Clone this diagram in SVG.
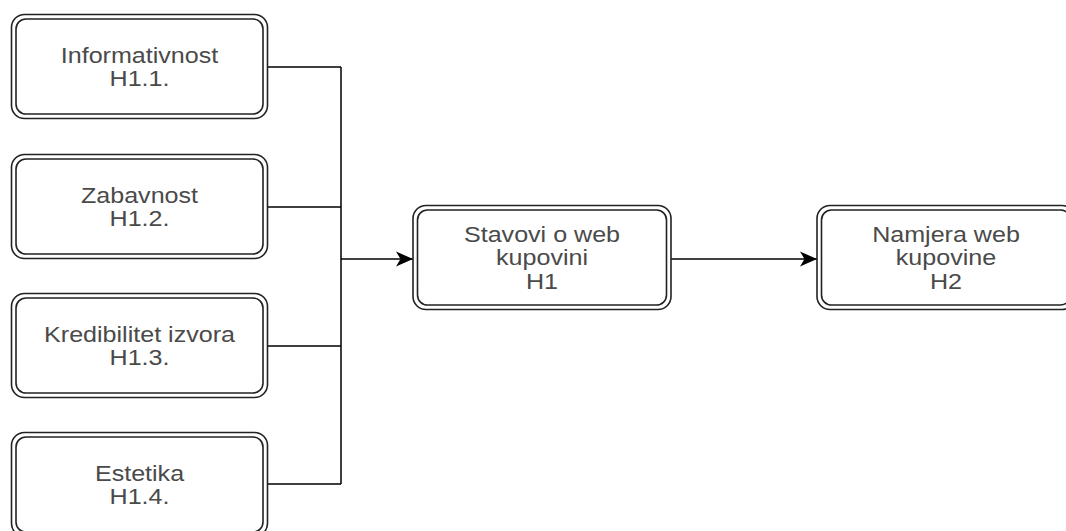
<svg xmlns="http://www.w3.org/2000/svg" width="1066" height="531" viewBox="0 0 1066 531">
<defs>
<marker id="arrow" markerUnits="userSpaceOnUse" markerWidth="17" markerHeight="17" viewBox="0 0 17 17" refX="17" refY="8.5" orient="auto">
<path d="M0,1 L17,8.5 L0,16 L4.5,8.5 Z" fill="#000"/>
</marker>
</defs>
<style>
.o{fill:#fff;stroke:#222;stroke-width:1.6}
.i{fill:none;stroke:#222;stroke-width:1.6}
.t{font-family:"Liberation Sans",Arial,sans-serif;font-size:22px;fill:#4a4a4a;text-anchor:middle}
.c{fill:none;stroke:#000;stroke-width:1.5}
</style>
<rect width="1066" height="531" fill="#fff"/>
<g id="connectors">
<path class="c" d="M268,67 H341 M268,207 H341 M268,346 H341 M268,484 H341 M341,67 V484"/>
<path class="c" d="M341,259 H413" marker-end="url(#arrow)"/>
<path class="c" d="M671,259 H817" marker-end="url(#arrow)"/>
</g>
<g id="node-informativnost">
<rect class="o" x="11.5" y="14.5" width="256" height="104" rx="13"/>
<rect class="i" x="16" y="19" width="247" height="95" rx="10"/>
<g transform="matrix(1.14 0 0 1 139.5 0)"><text class="t" x="0" y="63.5">Informativnost</text><text class="t" x="0" y="86.5">H1.1.</text></g>
</g>
<g id="node-zabavnost">
<rect class="o" x="11.5" y="154.5" width="256" height="104" rx="13"/>
<rect class="i" x="16" y="159" width="247" height="95" rx="10"/>
<g transform="matrix(1.14 0 0 1 139.5 0)"><text class="t" x="0" y="203.5">Zabavnost</text><text class="t" x="0" y="226.5">H1.2.</text></g>
</g>
<g id="node-kredibilitet">
<rect class="o" x="11.5" y="293.5" width="256" height="104" rx="13"/>
<rect class="i" x="16" y="298" width="247" height="95" rx="10"/>
<g transform="matrix(1.14 0 0 1 139.5 0)"><text class="t" x="0" y="342.5">Kredibilitet izvora</text><text class="t" x="0" y="365.5">H1.3.</text></g>
</g>
<g id="node-estetika">
<rect class="o" x="11.5" y="432.5" width="256" height="104" rx="13"/>
<rect class="i" x="16" y="437" width="247" height="95" rx="10"/>
<g transform="matrix(1.14 0 0 1 139.5 0)"><text class="t" x="0" y="481">Estetika</text><text class="t" x="0" y="504">H1.4.</text></g>
</g>
<g id="node-stavovi">
<rect class="o" x="413" y="205.5" width="258" height="104" rx="13"/>
<rect class="i" x="417.5" y="210" width="249" height="95" rx="10"/>
<g transform="matrix(1.14 0 0 1 542 0)"><text class="t" x="0" y="242">Stavovi o web</text><text class="t" x="0" y="265.5">kupovini</text><text class="t" x="0" y="289">H1</text></g>
</g>
<g id="node-namjera">
<rect class="o" x="817" y="205.5" width="258" height="104" rx="13"/>
<rect class="i" x="821.5" y="210" width="249" height="95" rx="10"/>
<g transform="matrix(1.14 0 0 1 946 0)"><text class="t" x="0" y="242">Namjera web</text><text class="t" x="0" y="265.5">kupovine</text><text class="t" x="0" y="289">H2</text></g>
</g>
</svg>
